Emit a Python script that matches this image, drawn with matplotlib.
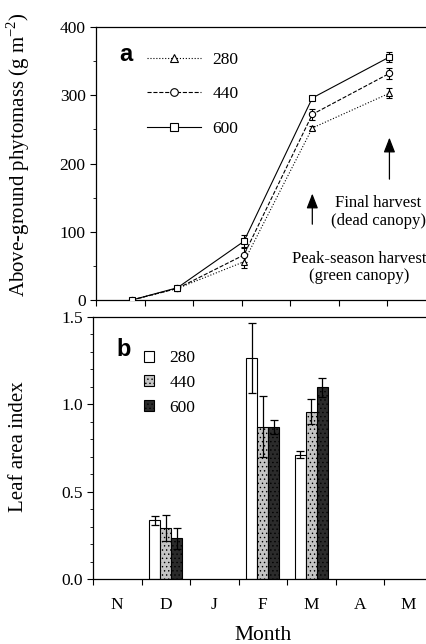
import numpy as np
import matplotlib.pyplot as plt
from matplotlib.lines import Line2D
from matplotlib.patches import Patch

plt.rcParams['font.family'] = ['Liberation Serif', 'DejaVu Serif']
plt.rcParams['mathtext.fontset'] = 'custom'
plt.rcParams['mathtext.rm'] = 'Liberation Serif'
plt.rcParams['hatch.linewidth'] = 0.5

months = ['N', 'D', 'J', 'F', 'M', 'A', 'M']
treatments = ['280', '440', '600']

# panel a: phytomass at each harvest date (x in months from 1 Nov)
harvest_x = [0.74, 1.68, 3.05, 4.46, 6.05]
mass_280 = [0, 17, 56, 252, 303]
mass_440 = [0, 17, 66, 272, 332]
mass_600 = [0, 18, 86, 296, 356]
mass_err_280 = [0, 2, 9, 3, 7]
mass_err_440 = [0, 2, 10, 8, 8]
mass_err_600 = [0, 2, 9, 3, 7]

# panel b: leaf area index, December / February / March
lai_x = [1.5, 3.5, 4.5]
lai_280 = [0.335, 1.267, 0.712]
lai_440 = [0.29, 0.872, 0.958]
lai_600 = [0.233, 0.87, 1.097]
lai_err_280 = [0.027, 0.2, 0.02]
lai_err_440 = [0.075, 0.175, 0.07]
lai_err_600 = [0.06, 0.04, 0.055]

fig = plt.figure(figsize=(4.26, 6.44), dpi=100)
ax1 = fig.add_axes([96 / 426, 344 / 644, 339.5 / 426, 273 / 644])
ax2 = fig.add_axes([93 / 426, 65 / 644, 339.5 / 426, 262 / 644])

for ax in (ax1, ax2):
    ax.set_xlim(0, 7)
    ax.set_xticks(np.arange(0, 8))
    ax.tick_params(direction='out', length=4, width=0.8, labelsize=12.5)
    ax.tick_params(which='minor', direction='out', length=2.5, width=0.6)
    for s in ax.spines.values():
        s.set_linewidth(0.9)
    ax.spines['right'].set_visible(False)

# ---- a ----
styles = [(mass_280, mass_err_280, ':', '^', 4.5),
          (mass_440, mass_err_440, '--', 'o', 4.5),
          (mass_600, mass_err_600, '-', 's', 5)]
handles = []
for (vals, err, ls, mk, ms), lab in zip(styles, treatments):
    ax1.errorbar(harvest_x, vals, yerr=err, color='black', ls=ls, lw=0.8,
                 marker=mk, ms=ms, mfc='white', mec='black', mew=0.8,
                 capsize=2.5, elinewidth=0.8, zorder=3)
    handles.append(Line2D([], [], color='black', ls=ls, lw=0.8, marker=mk,
                          ms=ms + 1, mfc='white', mec='black', mew=0.8))

ax1.set_ylim(0, 400)
ax1.set_yticks([0, 100, 200, 300, 400])
ax1.set_yticks(np.arange(50, 400, 100), minor=True)
ax1.set_xticklabels([])
ax1.set_ylabel('Above-ground phytomass (g m$^{\\mathregular{-2}}$)', fontsize=15)
ax1.yaxis.set_label_coords(-0.189, 0.531)
ax1.legend(handles, treatments, loc='upper left', bbox_to_anchor=(0.13, 0.935),
           frameon=False, fontsize=12.5, handlelength=3.1, handletextpad=0.65,
           labelspacing=1.05, borderaxespad=0)
ax1.text(0.068, 0.875, 'a', transform=ax1.transAxes, fontsize=17,
         fontweight='bold', family='Liberation Sans')

arrow = dict(arrowstyle='-|>,head_length=0.9,head_width=0.35', color='black', lw=0.9)
ax1.annotate('', xy=(4.46, 160), xytext=(4.46, 107), arrowprops=arrow)
ax1.annotate('', xy=(6.05, 242), xytext=(6.05, 173), arrowprops=arrow)
ax1.text(5.82, 129, 'Final harvest\n(dead canopy)', ha='center', va='center',
         fontsize=12, linespacing=1.1)
ax1.text(5.43, 48, 'Peak-season harvest\n(green canopy)', ha='center',
         va='center', fontsize=12, linespacing=1.1)

# ---- b ----
w = 0.227
colors = ['white', '#c4c4c4', '#2b2b2b']
hatches = [None, '....', '....']
bar_sets = [(lai_280, lai_err_280), (lai_440, lai_err_440), (lai_600, lai_err_600)]
for i, ((vals, err), c, h) in enumerate(zip(bar_sets, colors, hatches)):
    xs = np.array(lai_x) + (i - 1) * w
    ax2.bar(xs, vals, width=w, color=c, edgecolor='black', lw=0.8, hatch=h,
            yerr=err, capsize=3, error_kw=dict(elinewidth=0.9, capthick=0.9),
            label=treatments[i])
ax2.set_ylim(0, 1.5)
ax2.set_yticks([0, 0.5, 1.0, 1.5])
ax2.set_yticklabels(['0.0', '0.5', '1.0', '1.5'])
ax2.set_yticks(np.arange(0, 1.5, 0.1), minor=True)
ax2.set_xticks(np.arange(0.5, 7, 1), minor=True)
ax2.set_xticklabels(months, minor=True)
ax2.set_xticklabels([])
ax2.tick_params(axis='x', which='minor', length=0, pad=13, labelsize=12.5)
ax2.set_ylabel('Leaf area index', fontsize=15)
ax2.yaxis.set_label_coords(-0.191, 0.504)
ax2.set_xlabel('Month', fontsize=15.5, labelpad=9)

patches = [Patch(facecolor=c, edgecolor='black', lw=0.8, hatch=h)
           for c, h in zip(colors, hatches)]
ax2.legend(patches, treatments, loc='upper left', bbox_to_anchor=(0.13, 0.9),
           frameon=False, fontsize=12.5, handlelength=0.6, handleheight=0.6,
           handletextpad=0.85, labelspacing=0.5, borderaxespad=0)
ax2.text(0.07, 0.85, 'b', transform=ax2.transAxes, fontsize=17,
         fontweight='bold', family='Liberation Sans')

fig.savefig('out.png', dpi=100)
